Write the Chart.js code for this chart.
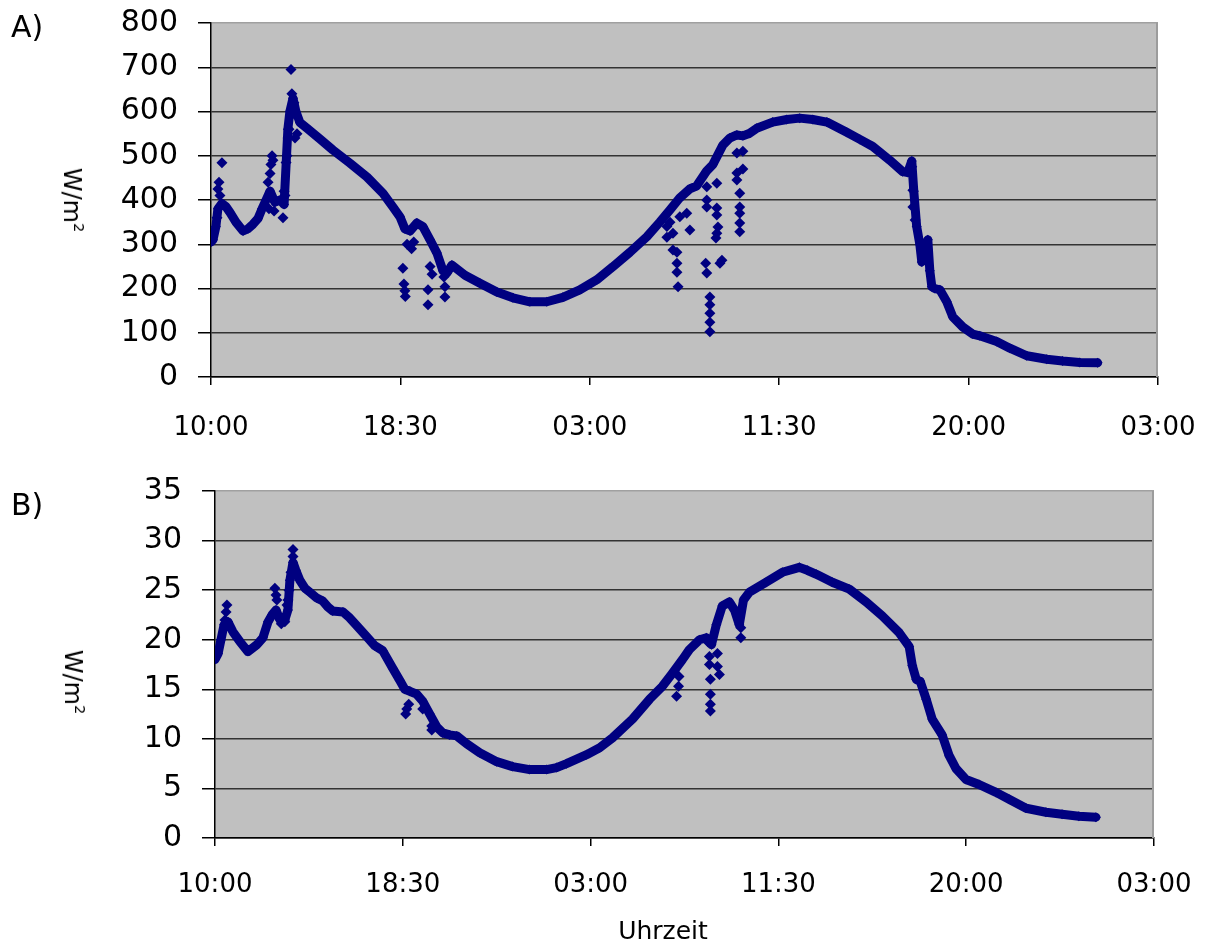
<!DOCTYPE html>
<html><head><meta charset="utf-8">
<script src="https://cdn.jsdelivr.net/npm/chart.js@4.4.0/dist/chart.umd.min.js"></script>
<style>
html,body{margin:0;padding:0;background:#fff;}
#wrap{position:relative;width:1210px;height:945px;overflow:hidden;font-family:"DejaVu Sans",sans-serif;color:#000;background:#fff;}
canvas{position:absolute;left:0;}
.lbl{position:absolute;font-size:30px;line-height:1;}
.ytitle{position:absolute;font-size:24px;line-height:1;white-space:nowrap;transform:translate(-50%,-50%) rotate(90deg);}
.ytitle sup{font-size:0.6em;vertical-align:0.7em;line-height:0;}
.xtitle{position:absolute;font-size:25px;line-height:1;white-space:nowrap;transform:translate(-50%,-50%);}
</style></head><body>
<div id="wrap">
<canvas id="cA" width="1210" height="465" style="top:0"></canvas>
<canvas id="cB" width="1210" height="480" style="top:465px"></canvas>
<div class="lbl" style="left:11px;top:12px">A)</div>
<div class="lbl" style="left:11px;top:490px">B)</div>
<div class="ytitle" style="left:72px;top:200px">W/m<sup>2</sup></div>
<div class="ytitle" style="left:73px;top:682px">W/m<sup>2</sup></div>
<div class="xtitle" style="left:663px;top:930px">Uhrzeit</div>
</div>
<script>
// x axis: hours since 10:00 on day 1
const xTickLabels = ['10:00','18:30','03:00','11:30','20:00','03:00'];

// Panel A – continuous trace
const hoursA = [0.00,0.09,0.22,0.31,0.49,0.67,0.85,1.12,1.44,1.66,1.88,2.11,2.29,2.47,2.65,2.87,3.10,3.28,3.45,3.54,3.68,3.81,3.99,4.31,4.89,5.47,6.24,7.00,7.72,8.17,8.48,8.70,8.93,9.24,9.51,9.83,10.14,10.41,10.59,10.81,11.40,12.07,12.83,13.55,14.31,15.07,15.79,16.55,17.32,18.03,18.80,19.56,20.14,20.59,21.04,21.49,21.80,22.25,22.52,22.97,23.28,23.60,23.87,24.18,24.49,25.21,25.84,26.42,27.01,27.64,28.53,29.12,29.70,30.46,31.04,31.27,31.45,31.54,31.67,31.81,31.90,32.03,32.17,32.26,32.35,32.48,32.71,33.02,33.29,33.74,34.19,34.50,35.26,35.85,36.61,37.51,38.22,38.99,39.79];
const wattsA = [305,310,340,380,392,385,372,350,330,335,345,358,380,400,420,395,400,390,560,600,630,600,575,562,538,513,483,452,415,384,362,335,330,348,340,310,280,240,235,253,230,212,192,179,170,170,180,197,220,249,282,317,350,377,405,425,432,466,480,524,540,547,545,551,562,576,582,585,582,576,553,537,521,490,464,462,488,420,340,300,260,280,310,240,204,200,197,170,136,113,97,93,80,65,48,40,36,33,32];
// Panel A – scattered readings (cloud passages)
const hoursAScatter = [0.27,0.31,0.36,0.40,0.49, 2.56,2.60,2.65,2.69,2.74,2.78,2.83, 3.23,3.28,3.32,3.37,3.41,3.46,3.50,3.59,3.63,3.72,3.77,3.86, 8.61,8.66,8.70,8.72,8.80,9.00,9.10, 9.74,9.74,9.83,9.92, 10.45,10.50,10.50, 20.46,20.46,20.60,20.73,20.73,20.91,20.91,20.91,20.96,21.04,21.35,21.49, 22.20,22.25,22.25,22.25,22.25,22.39,22.39,22.39,22.39,22.39,22.66,22.70,22.70,22.70,22.70,22.75,22.84,22.93, 23.60,23.60,23.60,23.73,23.73,23.73,23.73,23.73,23.87,23.87, 31.45,31.50,31.50,31.60];
const wattsAScatter = [360,425,440,410,484, 440,380,460,480,500,490,375, 360,420,410,485,500,540,560,695,640,620,540,550, 246,210,195,182,300,290,305, 197,163,250,232, 226,204,181, 340,316,350,325,287,282,257,237,204,362,370,332, 257,430,400,384,235,181,163,144,124,102,314,438,382,366,325,339,257,264, 506,461,445,415,384,370,348,328,510,470, 475,422,384,355];

// Panel B – continuous trace
const hoursB = [0.00,0.14,0.27,0.41,0.59,0.81,1.13,1.49,1.90,2.17,2.40,2.58,2.76,2.94,3.16,3.30,3.39,3.53,3.66,3.84,4.07,4.29,4.61,4.88,5.11,5.33,5.79,6.10,6.42,6.87,7.23,7.59,8.05,8.36,8.59,8.82,9.13,9.40,9.72,10.04,10.31,10.62,10.94,11.39,11.98,12.75,13.47,14.24,15.01,15.46,15.91,16.82,17.41,17.99,18.90,19.67,20.25,20.66,21.16,21.47,21.93,22.24,22.47,22.69,22.96,23.28,23.51,23.73,23.92,24.19,24.95,25.68,26.45,26.81,27.22,27.94,28.71,29.48,30.20,30.97,31.42,31.56,31.74,31.92,32.19,32.46,32.91,33.23,33.54,33.99,34.58,35.35,35.94,36.71,37.61,38.34,39.10,39.87];
const wattsB = [18.0,18.6,20.0,21.5,21.8,20.8,19.8,18.8,19.5,20.2,21.8,22.5,23.0,22.0,22.0,23.0,26.0,27.8,27.0,26.0,25.2,24.8,24.2,23.9,23.3,22.9,22.8,22.2,21.4,20.3,19.4,18.9,17.1,15.9,15.0,14.8,14.5,13.8,12.5,11.2,10.6,10.4,10.3,9.5,8.6,7.7,7.2,6.9,6.9,7.1,7.5,8.4,9.1,10.1,12.0,14.0,15.3,16.5,18.0,19.0,20.0,20.2,19.5,21.5,23.4,23.8,23.0,21.5,24.0,24.8,25.8,26.8,27.3,27.0,26.6,25.8,25.1,23.8,22.4,20.7,19.3,17.4,16.0,15.8,14.0,12.0,10.4,8.3,7.0,5.9,5.4,4.6,3.9,3.0,2.6,2.4,2.2,2.1];
// Panel B – scattered readings
const hoursBScatter = [0.45,0.50,0.54, 2.71,2.76,2.80, 3.00,3.16,3.26,3.30,3.35,3.44,3.53,3.53, 8.63,8.68,8.77, 9.40,9.81,9.81, 20.89,20.98,21.00, 22.30,22.38,22.38,22.42,22.42,22.42,22.42, 22.74,22.74,22.83, 23.73,23.80,23.80];
const wattsBScatter = [22.0,22.8,23.5, 25.2,24.5,24.0, 21.6,21.8,23.5,24.0,25.0,26.8,28.4,29.1, 12.5,13.0,13.5, 13.0,10.9,11.3, 14.3,15.3,16.3, 19.8,18.3,17.5,16.0,14.5,13.5,12.8, 18.6,17.3,16.5, 22.4,21.2,20.2];

function pts(xs, ys){ return xs.map((x,i)=>({x:x, y:ys[i]})); }

const NAVY = '#000080';
const FONT = '"DejaVu Sans", sans-serif';

const framePlugin = {
  id:'frame',
  beforeDraw(c){
    const a=c.chartArea, x=c.ctx;
    x.save(); x.fillStyle='#c0c0c0';
    x.fillRect(a.left,a.top,a.right-a.left,a.bottom-a.top);
    x.restore();
  },
  beforeDatasetsDraw(c){
    const a=c.chartArea, x=c.ctx;
    x.save(); x.strokeStyle='#9c9c9c'; x.lineWidth=2;
    x.beginPath(); x.moveTo(a.right-1,a.top); x.lineTo(a.right-1,a.bottom); x.stroke();
    x.restore();
  }
};

function makeChart(id, main, extra, yMax, yStep, area, canvasH){
  return new Chart(document.getElementById(id), {
    type:'scatter',
    data:{datasets:[
      {data:main, showLine:true, borderColor:NAVY, backgroundColor:NAVY, borderWidth:9,
       borderJoinStyle:'round', borderCapStyle:'round', tension:0,
       pointStyle:'rectRot', pointRadius:5, pointBorderWidth:0, pointHoverRadius:5},
      {data:extra, showLine:false, borderColor:NAVY, backgroundColor:NAVY,
       pointStyle:'rectRot', pointRadius:5.5, pointBorderWidth:0, pointHoverRadius:5.5}
    ]},
    options:{
      responsive:false, animation:false, devicePixelRatio:1,
      events:[],
      layout:{padding:{top:area.top, right:1210-area.right, left:0, bottom:0}},
      plugins:{legend:{display:false}, tooltip:{enabled:false}},
      scales:{
        x:{type:'linear', min:0, max:42.5,
           ticks:{stepSize:8.5, callback:(v,i)=>xTickLabels[i], color:'#000',
                  font:{family:FONT, size:26}, padding:area.xpad, maxRotation:0, autoSkip:false},
           grid:{drawOnChartArea:false, drawTicks:true, tickLength:8, tickColor:'#000', color:'#000', lineWidth:1.5},
           border:{color:'#000', width:1.5},
           afterFit(s){ s.height = canvasH - area.bottom; s.paddingLeft = 0; s.paddingRight = 0; }},
        y:{min:0, max:yMax,
           ticks:{stepSize:yStep, color:'#000', font:{family:FONT, size:30}, padding:20},
           grid:{color:(ctx)=> (ctx.tick && ctx.tick.value===yMax) ? '#a0a0a0' : '#333333',
                 lineWidth:1.5, tickLength:13, tickColor:'#000'},
           border:{color:'#000', width:1.5},
           afterFit(s){ s.width = area.left; s.paddingTop = 0; s.paddingBottom = 0; }}
      }
    },
    plugins:[framePlugin]
  });
}

makeChart('cA', pts(hoursA, wattsA), pts(hoursAScatter, wattsAScatter), 800, 100,
  {left:211, right:1158, top:23, bottom:377, xpad:28}, 465);
makeChart('cB', pts(hoursB, wattsB), pts(hoursBScatter, wattsBScatter), 35, 5,
  {left:215, right:1154, top:26, bottom:373, xpad:24}, 480);
</script>
</body></html>
